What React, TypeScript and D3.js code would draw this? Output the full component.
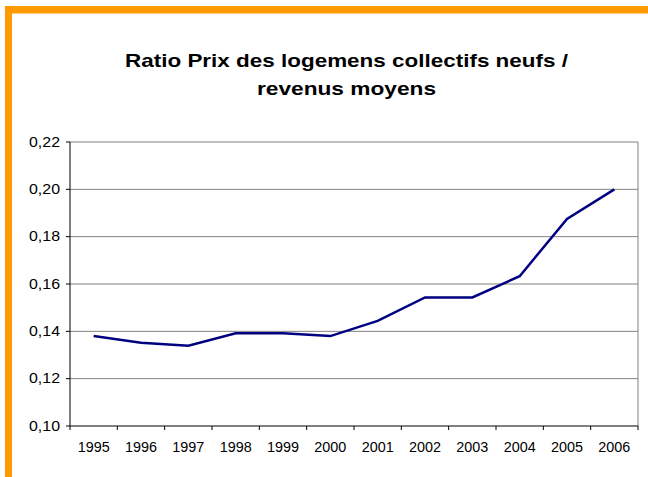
import React from "react";
import * as d3 from "d3";

const years = ["1995","1996","1997","1998","1999","2000","2001","2002","2003","2004","2005","2006"];
const ratios = [0.138,0.1352,0.1339,0.1392,0.1392,0.138,0.1444,0.1543,0.1543,0.1633,0.1875,0.2];
const yTicks = [0.10,0.12,0.14,0.16,0.18,0.20,0.22];
const titleLines = ["Ratio Prix des logemens collectifs neufs /", "revenus moyens"];

export default function App() {
  const W = 648, H = 477;
  const left = 70, right = 638, top = 142, bottom = 426;
  const x = d3.scaleBand().domain(years).range([left, right]);
  const y = d3.scaleLinear().domain([0.10, 0.22]).range([bottom, top]);
  const line = d3.line<number>()
    .x((_, i) => (x(years[i]) as number) + x.bandwidth() / 2)
    .y(d => y(d));
  const fmt = (v: number) => v.toFixed(2).replace(".", ",");
  const font = "'Liberation Sans', Arial, sans-serif";
  return (
    <svg width={W} height={H} style={{ position: "absolute", left: 0, top: 0, display: "block" }} fontFamily={font}>
      <rect x={0} y={0} width={W} height={H} fill="#fff" />
      <rect x={5} y={6} width={W - 5} height={7.5} fill="#FF9900" />
      <rect x={5} y={6} width={7} height={H - 6} fill="#FF9900" />
      <text x={346.5} y={66.7} textAnchor="middle" fontSize={19} fontWeight="bold" textLength={443} lengthAdjust="spacingAndGlyphs">{titleLines[0]}</text>
      <text x={346.5} y={95} textAnchor="middle" fontSize={19} fontWeight="bold" textLength={179} lengthAdjust="spacingAndGlyphs">{titleLines[1]}</text>
      {yTicks.map(t => (
        <g key={t}>
          {t > 0.10 && <line x1={left} x2={right} y1={y(t)} y2={y(t)} stroke="#808080" strokeWidth={1} />}
          <line x1={left - 4} x2={left} y1={y(t)} y2={y(t)} stroke="#000" strokeWidth={1} />
          <text x={60} y={y(t) + 4.5} textAnchor="end" fontSize={14} textLength={31} lengthAdjust="spacingAndGlyphs">{fmt(t)}</text>
        </g>
      ))}
      <line x1={right} x2={right} y1={top} y2={bottom} stroke="#808080" strokeWidth={1} />
      <line x1={left} x2={left} y1={top} y2={bottom} stroke="#000" strokeWidth={1} />
      <line x1={left} x2={right} y1={bottom} y2={bottom} stroke="#000" strokeWidth={1} />
      {years.map((yr, i) => (
        <g key={yr}>
          <line x1={x(yr) as number} x2={x(yr) as number} y1={bottom} y2={bottom + 4} stroke="#000" strokeWidth={1} />
          <text x={(x(yr) as number) + x.bandwidth() / 2} y={451.7} textAnchor="middle" fontSize={14} textLength={32} lengthAdjust="spacingAndGlyphs">{yr}</text>
        </g>
      ))}
      <line x1={right} x2={right} y1={bottom} y2={bottom + 4} stroke="#000" strokeWidth={1} />
      <path d={line(ratios) || ""} fill="none" stroke="#000080" strokeWidth={2.5} strokeLinejoin="miter" />
    </svg>
  );
}
